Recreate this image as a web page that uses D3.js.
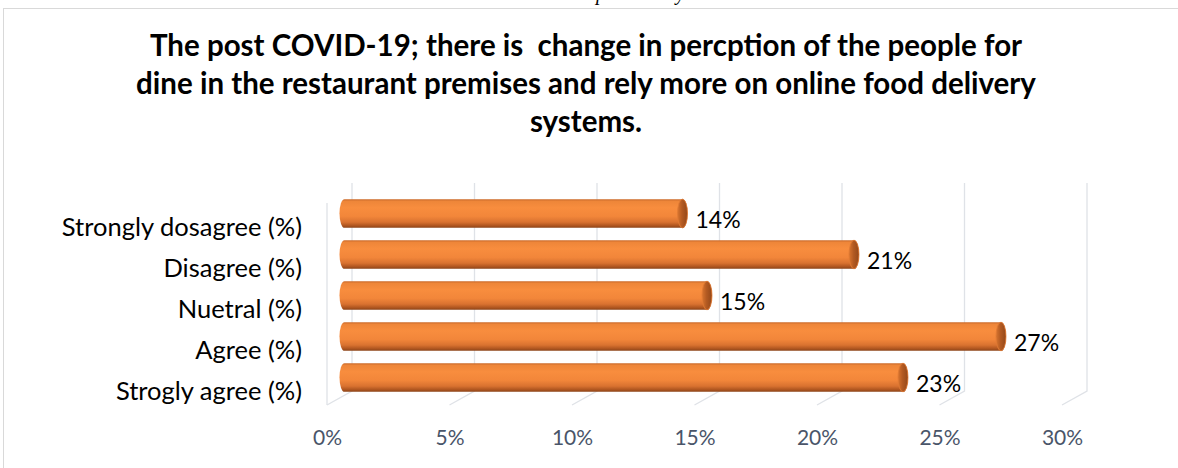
<!DOCTYPE html>
<html>
<head>
<meta charset="utf-8">
<script src="https://cdn.jsdelivr.net/npm/d3@7"></script>
<style>
  html, body { margin: 0; padding: 0; background: #fff; }
  svg { display: block; }
</style>
</head>
<body>
<svg id="chart" width="1178" height="468"></svg>
<script>
// Survey responses, top to bottom as they appear on the chart
const categories = [
  "Strongly dosagree (%)",
  "Disagree (%)",
  "Nuetral (%)",
  "Agree (%)",
  "Strogly agree (%)"
];
const values = [14, 21, 15, 27, 23];
const xTicks = [0, 5, 10, 15, 20, 25, 30];
const titleLines = [
  "The post COVID-19; there is\u00a0 change in percption of the people for",
  "dine in the restaurant premises and rely more on online food delivery",
  "systems."
];

const svg = d3.select("#chart");
const font = "Lato, 'Open Sans', sans-serif";

// Frame around the chart area (continues past the page edges)
svg.append("rect")
  .attr("x", 3.5).attr("y", 8.5)
  .attr("width", 1300).attr("height", 600)
  .attr("fill", "none").attr("stroke", "#d9d9d9").attr("stroke-width", 1);

// Tail of the running caption above the frame
svg.append("text")
  .attr("y", 0)
  .attr("font-family", "'Liberation Serif', serif")
  .attr("font-style", "italic")
  .attr("font-size", 20)
  .attr("fill", "#000")
  .selectAll("tspan")
  .data([{ t: "p", x: 596 }, { t: "y", x: 676 }])
  .join("tspan")
  .attr("x", d => d.x)
  .text(d => d.t);

// Title
svg.append("g")
  .selectAll("text")
  .data(titleLines)
  .join("text")
  .attr("x", 586)
  .attr("y", (d, i) => 56 + i * 38)
  .attr("text-anchor", "middle")
  .attr("font-family", font)
  .attr("font-weight", 700)
  .attr("font-size", 29.5)
  .attr("fill", "#000")
  .text(d => d);

// Scales: x is the front edge of the floor; the back wall sits up and to the right
const x = d3.scaleLinear().domain([0, 30]).range([327, 1062]);
const depth = { dx: 25, dy: -14 };
const floorY = 405;
const wallTop = 183;

const y = d3.scaleBand()
  .domain(categories)
  .range([193, 398])
  .paddingInner(0.3)
  .paddingOuter(0.15);

// Gridlines on the back wall, each folding down onto the floor
const grid = svg.append("g")
  .attr("fill", "none")
  .attr("stroke", "#dfe2e7")
  .attr("stroke-width", 1.3);

grid.selectAll("path.grid")
  .data(xTicks)
  .join("path")
  .attr("class", "grid")
  .attr("d", t => {
    const fx = x(t), bx = x(t) + depth.dx, by = floorY + depth.dy;
    return `M${fx},${floorY} L${bx},${by} L${bx},${wallTop}`;
  });

// Front edge of the side wall
grid.append("path")
  .attr("d", `M${x(0)},${wallTop + 20} L${x(0)},${floorY}`);

// Bottom axis labels
const axis = d3.axisBottom(x)
  .tickValues(xTicks)
  .tickFormat(d => d + "%")
  .tickSize(0)
  .tickPadding(0);

const ax = svg.append("g")
  .attr("transform", "translate(0,438)")
  .call(axis);
ax.select(".domain").remove();
ax.selectAll("text")
  .attr("y", 0)
  .attr("dy", "0.35em")
  .attr("font-family", font)
  .attr("font-size", 21)
  .attr("fill", "#4a5569");

// Category labels
svg.append("g")
  .selectAll("text")
  .data(categories)
  .join("text")
  .attr("x", 302)
  .attr("y", d => y(d) + y.bandwidth() / 2 + 12)
  .attr("text-anchor", "end")
  .attr("dominant-baseline", "central")
  .attr("font-family", font)
  .attr("font-size", 25.5)
  .attr("fill", "#000")
  .text(d => d);

// Cylinder shading
const defs = svg.append("defs");
const body = defs.append("linearGradient")
  .attr("id", "cylBody")
  .attr("x1", 0).attr("y1", 0).attr("x2", 0).attr("y2", 1);
[
  [0, "#c9692a"], [0.08, "#ee8639"], [0.3, "#f88d3e"], [0.6, "#f2863a"],
  [0.8, "#d97230"], [0.92, "#b05620"], [1, "#8a4318"]
].forEach(([o, c]) => body.append("stop").attr("offset", o).attr("stop-color", c));

const cap = defs.append("linearGradient")
  .attr("id", "cylCap")
  .attr("x1", 0).attr("y1", 0).attr("x2", 1).attr("y2", 0);
[
  [0, "#d9752f"], [0.45, "#b35a22"], [1, "#93481a"]
].forEach(([o, c]) => cap.append("stop").attr("offset", o).attr("stop-color", c));

const rows = categories.map((c, i) => ({ c, v: values[i] }));
const half = depth.dx / 2;
const rx = 5;

const bars = svg.append("g")
  .selectAll("g")
  .data(rows)
  .join("g");

bars.append("path")
  .attr("fill", "url(#cylBody)")
  .attr("d", d => {
    const r = y.bandwidth() / 2;
    const cy = y(d.c) + r;
    const x0 = x(0) + half + rx, x1 = x(d.v) + half;
    return `M${x0},${cy - r} L${x1},${cy - r} A${rx},${r} 0 0 1 ${x1},${cy + r}` +
           ` L${x0},${cy + r} A${rx},${r} 0 0 1 ${x0},${cy - r} Z`;
  });

bars.append("ellipse")
  .attr("cx", d => x(d.v) + half)
  .attr("cy", d => y(d.c) + y.bandwidth() / 2)
  .attr("rx", rx)
  .attr("ry", y.bandwidth() / 2)
  .attr("fill", "url(#cylCap)")
  .attr("stroke", "#e07a34")
  .attr("stroke-width", 0.8);

// Value labels
bars.append("text")
  .attr("x", d => x(d.v) + half + rx + 8)
  .attr("y", d => y(d.c) + y.bandwidth() / 2 + 5)
  .attr("dominant-baseline", "central")
  .attr("font-family", font)
  .attr("font-size", 23)
  .attr("fill", "#000")
  .text(d => d.v + "%");
</script>
</body>
</html>
